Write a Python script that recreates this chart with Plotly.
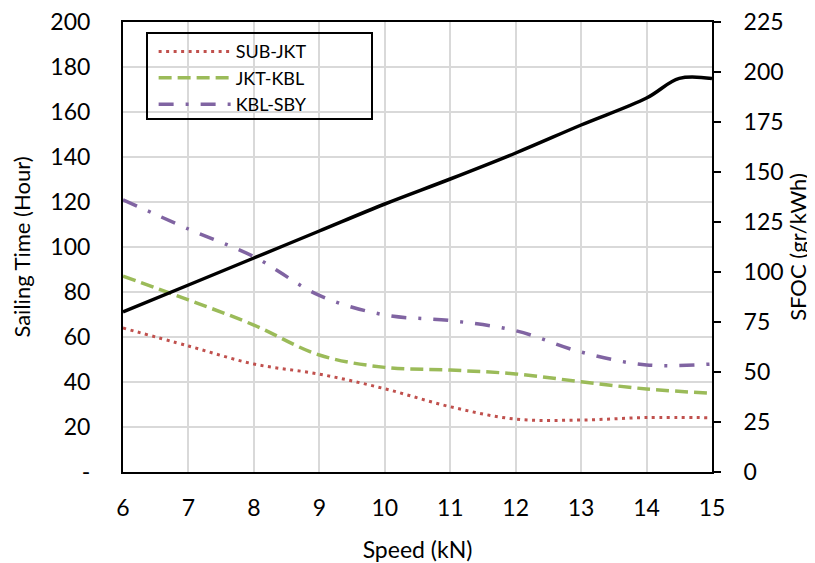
import plotly.graph_objects as go

speed = [6, 7, 8, 9, 10, 11, 12, 13, 14, 15]
sub_jkt = [64, 56, 48, 43.5, 37, 29, 23.5, 23.1, 24.2, 24.1]
jkt_kbl = [87, 76.5, 65.3, 52, 46.5, 45.3, 43.6, 40.1, 36.9, 35]
kbl_sby = [121, 108, 95.7, 78.5, 69.8, 67.3, 62.8, 53.3, 47.6, 48]

sfoc_speed = [6, 7, 8, 9, 10, 11, 12, 13, 14, 14.5, 15]
sfoc = [80, 93.5, 107, 120.5, 134, 146.5, 159.5, 173.5, 187, 196.8, 196.7]

left_ticks = [0, 20, 40, 60, 80, 100, 120, 140, 160, 180, 200]
left_ticktext = ["-", "20", "40", "60", "80", "100", "120", "140", "160", "180", "200"]
right_ticks = [0, 25, 50, 75, 100, 125, 150, 175, 200, 225]
x_ticks = [6, 7, 8, 9, 10, 11, 12, 13, 14, 15]

FONT = "Lato"
fig = go.Figure()
fig.add_trace(go.Scatter(x=speed, y=sub_jkt, name="SUB-JKT", mode="lines",
                         line=dict(color="#C0504D", width=3, dash="3px,4.5px", shape="spline")))
fig.add_trace(go.Scatter(x=speed, y=jkt_kbl, name="JKT-KBL", mode="lines",
                         line=dict(color="#9BBB59", width=3.5, dash="13px,6px", shape="spline")))
fig.add_trace(go.Scatter(x=speed, y=kbl_sby, name="KBL-SBY", mode="lines",
                         line=dict(color="#8064A2", width=3.5, dash="15px,12px,3px,12px", shape="spline")))
fig.add_trace(go.Scatter(x=sfoc_speed, y=sfoc, name="SFOC", mode="lines", yaxis="y2",
                         showlegend=False,
                         line=dict(color="black", width=3.5, shape="spline")))

fig.update_layout(
    width=807, height=555,
    margin=dict(l=115, r=103, t=14, b=91, autoexpand=False),
    paper_bgcolor="white", plot_bgcolor="white",
    font=dict(family=FONT, size=23, color="black"),
    showlegend=True,
    legend=dict(x=0.052, y=0.975, xanchor="left", yanchor="top",
                bgcolor="rgba(0,0,0,0)", borderwidth=0,
                font=dict(family=FONT, size=18, color="black"),
                itemwidth=72, tracegroupgap=0),
    xaxis=dict(range=[6, 15], tickvals=x_ticks, showgrid=True, gridcolor="#d9d9d9", gridwidth=1.8,
               showline=True, linecolor="black", linewidth=2, mirror=True, ticks="",
               ticklabelstandoff=14, zeroline=False, automargin=False, ticklabeloverflow="allow",
               title=dict(text="Speed (kN)", standoff=25, font=dict(size=23))),
    yaxis=dict(range=[0, 200], tickvals=left_ticks, ticktext=left_ticktext, showgrid=True,
               gridcolor="#d9d9d9", gridwidth=1.8, showline=True, linecolor="black", linewidth=2,
               mirror=True, ticks="", ticklabelstandoff=26, zeroline=False, automargin=False,
               ticklabeloverflow="allow",
               title=dict(text="Sailing Time (Hour)", standoff=17, font=dict(size=22))),
    yaxis2=dict(range=[0, 225], tickvals=right_ticks, overlaying="y", side="right",
                showgrid=False, showline=True, linecolor="black", linewidth=2,
                ticks="outside", ticklen=7, tickwidth=2, tickcolor="black",
                ticklabelstandoff=18, zeroline=False, automargin=False, ticklabeloverflow="allow",
                title=dict(text="SFOC (gr/kWh)", standoff=8, font=dict(size=22))),
    shapes=[dict(type="rect", xref="paper", yref="paper",
                 x0=(147 - 123) / 589, x1=(372 - 123) / 589,
                 y0=(472 - 119) / 450, y1=(472 - 33) / 450,
                 line=dict(color="black", width=2), fillcolor="rgba(0,0,0,0)", layer="above")],
)

fig.write_html("out.html")
